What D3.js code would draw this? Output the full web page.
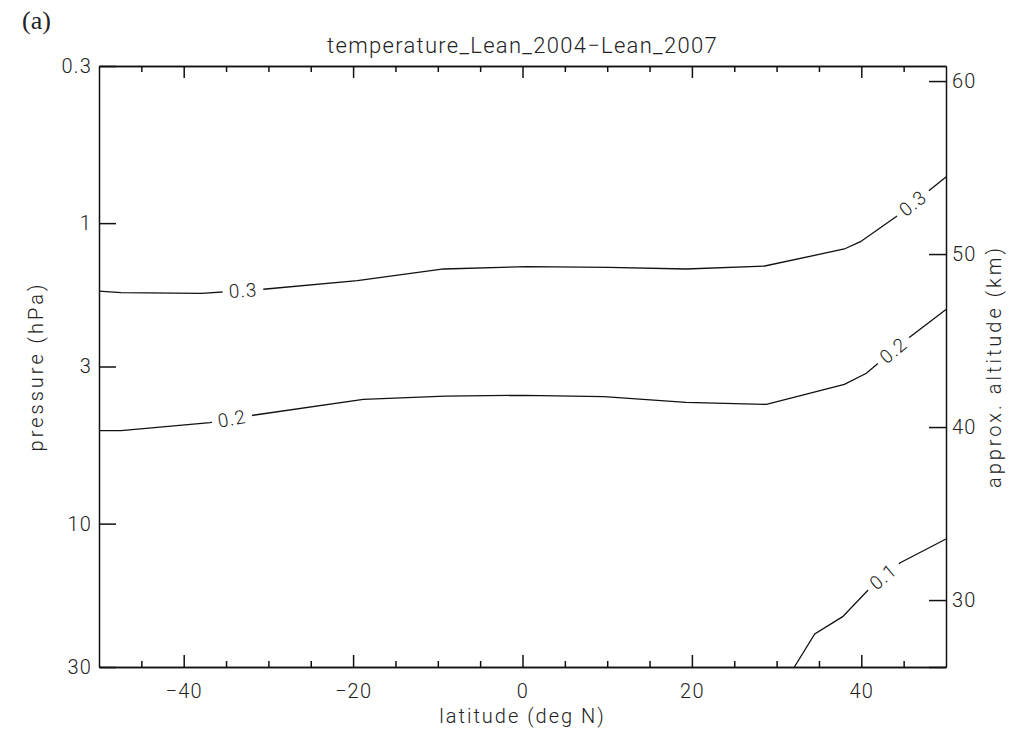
<!DOCTYPE html>
<html>
<head>
<meta charset="utf-8">
<script src="https://cdn.jsdelivr.net/npm/d3@7"></script>
<style>
  body { margin: 0; background: #fff; }
  text { font-family: Roboto, "DejaVu Sans", sans-serif; font-weight: 300; fill: #222; }
  .axis path, .axis line { stroke: #111; stroke-width: 1.5; }
</style>
</head>
<body>
<div class="canvas"></div>
<script>
// contour data: latitude (deg N) and pressure (hPa) along each line
const lat03 = [-50, -47.4, -37.9, -30.6, -19.5, -9.3, 0.5, 10.2, 19.3, 28.6, 38.0, 39.9, 44.1, 47.6, 50];
const p03 = [1.683, 1.704, 1.712, 1.660, 1.554, 1.421, 1.396, 1.403, 1.421, 1.389, 1.219, 1.153, 0.953, 0.796, 0.702];
const lat02 = [-50, -47.4, -36.9, -31.6, -18.8, -9.15, 0.2, 9.6, 19.3, 28.8, 38.0, 40.6, 42.2, 45.7, 50];
const p02 = [4.906, 4.906, 4.615, 4.350, 3.858, 3.762, 3.742, 3.781, 3.948, 4.009, 3.439, 3.160, 2.892, 2.398, 1.938];
const lat01 = [32.1, 34.5, 37.8, 41.2, 44.6, 50];
const p01 = [30, 23.3, 20.4, 16.2, 13.49, 11.25];

// where the contour labels sit (latitude)
const labels03 = [-33.0, 46.1];
const labels02 = [-34.3, 43.8];
const labels01 = [42.6];

// ticks
const latMajor = [-40, -20, 0, 20, 40];
const latMinor = [-45, -35, -30, -25, -15, -10, -5, 5, 10, 15, 25, 30, 35, 45];
const pTicks = [0.3, 1, 3, 10, 30];
const pTickLabels = ['0.3', '1', '3', '10', '30'];
const altTicks = [30, 40, 50, 60];
const altRange = [26.13, 60.87];

// graph dimensions
const margin = { top: 66, right: 63, bottom: 66, left: 99 };
const graphWidth = 1009 - margin.left - margin.right;
const graphHeight = 733 - margin.top - margin.bottom;

const svg = d3.select('.canvas')
  .append('svg')
  .attr('width', 1009)
  .attr('height', 733);

const graph = svg.append('g')
  .attr('transform', `translate(${margin.left}, ${margin.top})`);

// scales
const x = d3.scaleLinear().domain([-50, 50]).range([0, graphWidth]);
const y = d3.scaleLog().domain([0.3, 30]).range([0, graphHeight]);
const alt = d3.scaleLinear().domain(altRange).range([graphHeight, 0]);

// contour lines
const line = d3.line()
  .x(d => x(d[0]))
  .y(d => y(d[1]));

const contours = [
  { lat: lat03, p: p03, labels: labels03, text: '0.3' },
  { lat: lat02, p: p02, labels: labels02, text: '0.2' },
  { lat: lat01, p: p01, labels: labels01, text: '0.1' }
];

contours.forEach(c => {
  const pts = c.lat.map((d, i) => [d, c.p[i]]);
  graph.append('path')
    .datum(pts)
    .attr('fill', 'none')
    .attr('stroke', '#111')
    .attr('stroke-width', 1.3)
    .attr('d', line);

  // labels, rotated along the line with a gap cut out
  const scr = pts.map(d => [x(d[0]), y(d[1])]);
  c.labels.forEach(l => {
    const lx = x(l);
    let i = 0;
    while (i < scr.length - 2 && scr[i + 1][0] < lx) i++;
    const a = scr[i], b = scr[i + 1];
    const t = (lx - a[0]) / (b[0] - a[0]);
    const ly = a[1] + t * (b[1] - a[1]);
    const ang = Math.atan2(b[1] - a[1], b[0] - a[0]) * 180 / Math.PI;
    const g = graph.append('g')
      .attr('transform', `translate(${lx}, ${ly}) rotate(${ang})`);
    const rect = g.append('rect').attr('fill', '#fff');
    const txt = g.append('text')
      .attr('text-anchor', 'middle')
      .attr('dominant-baseline', 'central')
      .attr('font-size', 19)
      .attr('letter-spacing', 1)
      .text(c.text);
    const bb = txt.node().getBBox();
    rect.attr('x', bb.x - 6).attr('y', -8).attr('width', bb.width + 12).attr('height', 16);
  });
});

// axes
const xAxis = d3.axisBottom(x).tickValues(latMajor).tickSizeInner(-12).tickSizeOuter(0)
  .tickPadding(17).tickFormat(d => d3.format('d')(d).replace('-', '\u2212'));
const xMinor = d3.axisBottom(x).tickValues(latMinor).tickSizeInner(-6).tickSizeOuter(0).tickFormat('');
const xTop = d3.axisTop(x).tickValues(latMajor).tickSizeInner(-12).tickSizeOuter(0).tickFormat('');
const xTopMinor = d3.axisTop(x).tickValues(latMinor).tickSizeInner(-6).tickSizeOuter(0).tickFormat('');
const yAxis = d3.axisLeft(y).tickValues(pTicks).tickSizeInner(-17).tickSizeOuter(0)
  .tickPadding(7).tickFormat((d, i) => pTickLabels[i]);
const altAxis = d3.axisRight(alt).tickValues([altRange[0]].concat(altTicks)).tickSizeInner(-17).tickSizeOuter(0)
  .tickPadding(6).tickFormat(d => altTicks.includes(d) ? d : '');

const axisGroups = [
  graph.append('g').attr('transform', `translate(0, ${graphHeight})`).call(xAxis),
  graph.append('g').attr('transform', `translate(0, ${graphHeight})`).call(xMinor),
  graph.append('g').call(xTop),
  graph.append('g').call(xTopMinor),
  graph.append('g').call(yAxis),
  graph.append('g').attr('transform', `translate(${graphWidth}, 0)`).call(altAxis)
];
axisGroups.forEach(g => {
  g.attr('class', 'axis');
  g.selectAll('text').attr('font-size', 20).attr('letter-spacing', 1.2).attr('fill', '#222');
});

// titles
svg.append('text')
  .attr('x', margin.left + graphWidth / 2)
  .attr('y', 53)
  .attr('text-anchor', 'middle')
  .attr('font-size', 22)
  .attr('letter-spacing', 1.3)
  .text('temperature_Lean_2004\u2212Lean_2007');

svg.append('text')
  .attr('x', margin.left + graphWidth / 2)
  .attr('y', 723)
  .attr('text-anchor', 'middle')
  .attr('font-size', 20)
  .attr('letter-spacing', 2)
  .text('latitude (deg N)');

svg.append('text')
  .attr('transform', `translate(43, ${margin.top + graphHeight / 2}) rotate(-90)`)
  .attr('text-anchor', 'middle')
  .attr('font-size', 20)
  .attr('letter-spacing', 3)
  .text('pressure (hPa)');

svg.append('text')
  .attr('transform', `translate(1001, ${margin.top + graphHeight / 2}) rotate(-90)`)
  .attr('text-anchor', 'middle')
  .attr('font-size', 20)
  .attr('letter-spacing', 3)
  .text('approx. altitude (km)');

svg.append('text')
  .attr('x', 22)
  .attr('y', 29)
  .style('font-family', '"Liberation Serif", "Times New Roman", serif')
  .style('font-weight', 400)
  .attr('font-size', 26)
  .attr('fill', '#000')
  .text('(a)');
</script>
</body>
</html>
